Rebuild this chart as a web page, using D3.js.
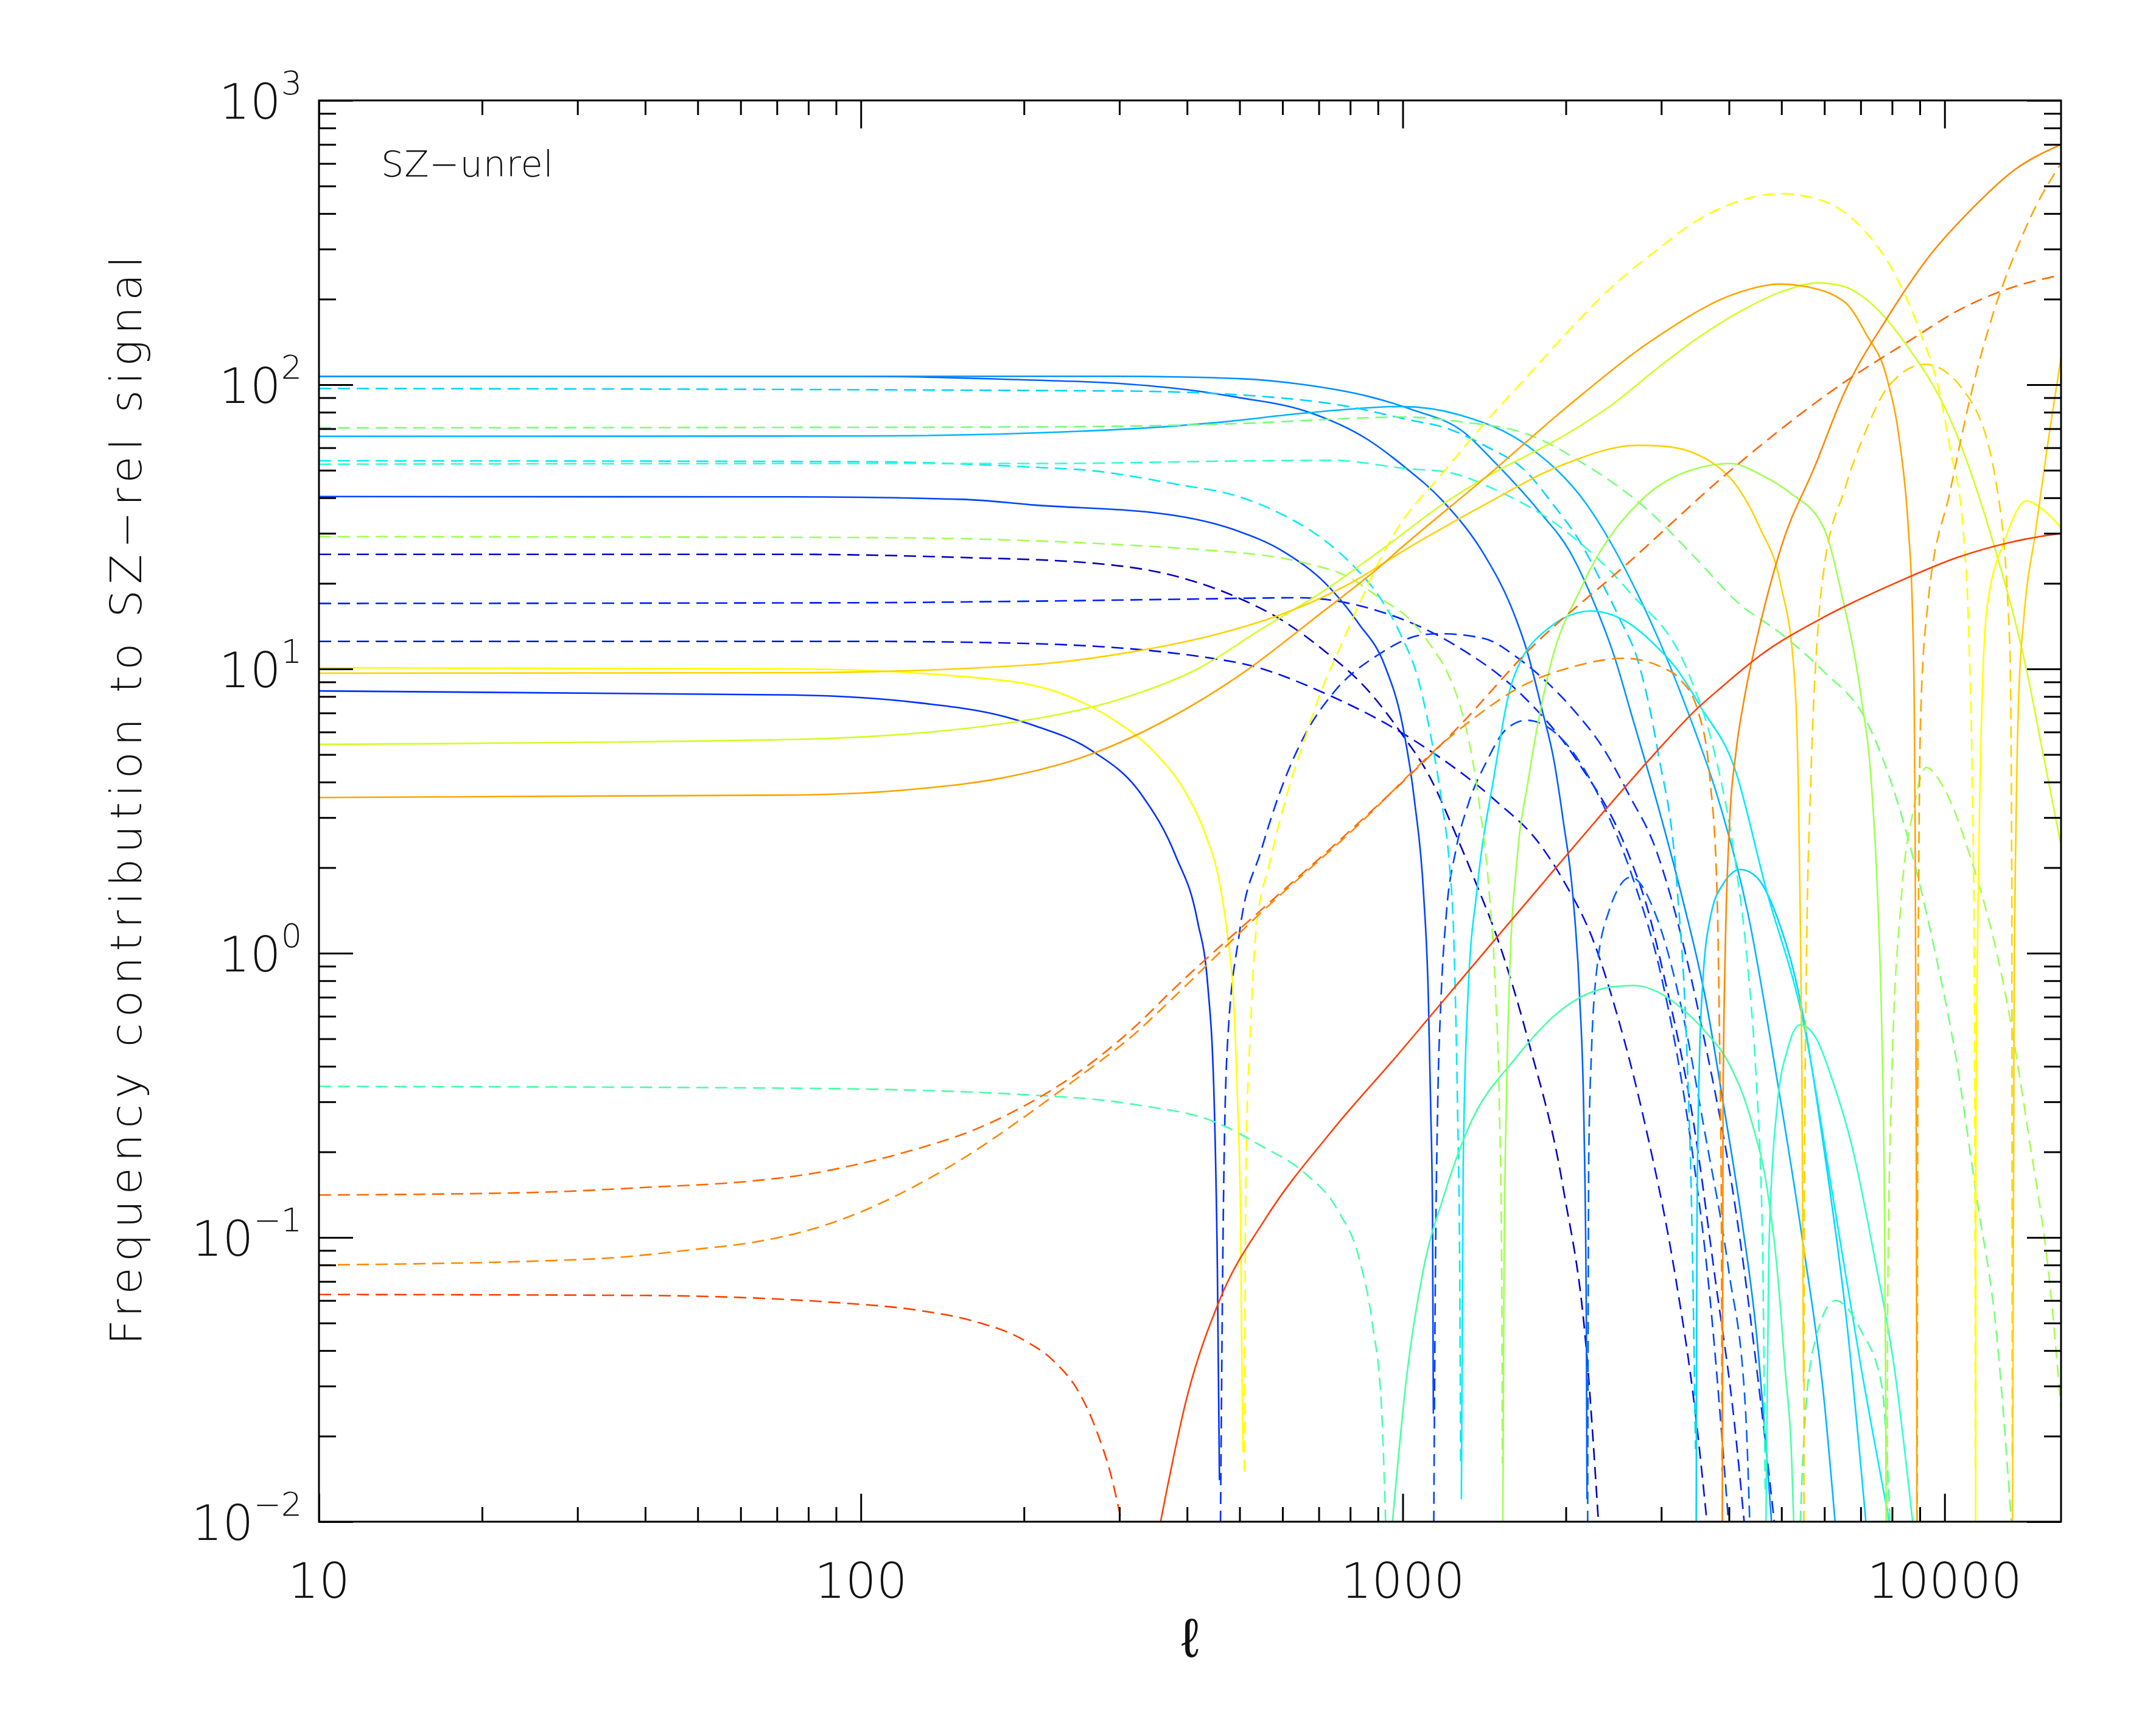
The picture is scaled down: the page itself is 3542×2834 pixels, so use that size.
<!DOCTYPE html>
<html>
<head>
<meta charset="utf-8">
<script src="https://cdn.jsdelivr.net/npm/d3@7"></script>
<style>
  html, body { margin: 0; padding: 0; background: #fff; }
  svg { display: block; }
  text { font-family: "DejaVu Sans", sans-serif; font-weight: 200; fill: #111; }
</style>
</head>
<body>
<div id="chart"></div>
<script>
// each series: [ell, signed contribution]; negative parts are drawn dashed
const dkBlue25 = [[10,-25.3],[75,-25.3],[150,-24.7],[265,-23.6],[381,-21.2],[500,-17.7],[600,-14.8],[720,-11.5],[863,-8.4],[990,-6.0],[1127,-4.1],[1239,-2.75],[1364,-1.77],[1490,-1.15],[1706,-0.49],[1979,-0.148],[2185,-0.039],[2300,-0.0096]];
const blue12 = [[10,-12.5],[100,-12.5],[200,-12.3],[486,-10.6],[740,-8.0],[1066,-5.5],[1494,-3.4],[1766,-2.5],[1980,-1.8],[2250,-1.1],[2473,-0.63],[2800,-0.25],[3185,-0.073],[3460,-0.025],[3650,-0.0096]];
const blue17 = [[10,-17.0],[100,-17.1],[200,-17.3],[400,-17.6],[643,-17.8],[901,-16],[1260,-12],[1670,-8.0],[2090,-4.8],[2617,-2.2],[2846,-1.38],[3006,-0.9],[3460,-0.237],[3767,-0.073],[4096,-0.022],[4275,-0.0096]];
const blue8 = [[10,8.37],[75,8.1],[128,7.6],[184,6.8],[210,6.3],[265,5.2],[330,3.6],[381,2.2],[418,1.3],[437,0.76],[449,0.29],[455,0.076],[459,0.014],[461,-0.0099],[466,-0.1],[474,-0.45],[500,-1.19],[548,-2.3],[600,-3.9],[658,-5.8],[747,-8.3],[900,-11.2],[1092,-13.2],[1175,-13.3],[1413,-12.8],[1623,-11],[1866,-8.8],[2090,-7.0],[2338,-5.3],[2617,-3.6],[2924,-2.35],[3185,-1.38],[3600,-0.5],[4108,-0.128],[4616,-0.023],[4860,-0.0096]];
const blue40 = [[10,40.4],[74,40.3],[154,39.5],[210,37.7],[367,35],[486,31],[608,25.6],[720,20],[828,14.5],[926,10.3],[1000,6.3],[1052,3.4],[1093,1.6],[1115,0.7],[1126,0.29],[1135,0.118],[1139,0.024],[1141,-0.0099],[1149,-0.076],[1160,-0.29],[1177,-0.70],[1203,-1.36],[1253,-2.3],[1318,-3.3],[1426,-4.7],[1548,-6.1],[1694,-6.6],[1979,-5.6],[2296,-3.6],[2676,-1.77],[3000,-0.83],[3345,-0.27],[3690,-0.061],[3998,-0.0096]];
const blueA = [[10,107],[100,107],[200,104],[300,101],[400,96],[500,90],[658,81],[863,64],[1000,52],[1185,39],[1418,25],[1580,16.8],[1697,11.5],[1807,7.2],[1900,4.8],[1979,2.9],[2060,1.6],[2121,0.70],[2160,0.25],[2182,0.05],[2188,0.012],[2194,-0.0099],[2205,-0.2],[2230,-0.45],[2274,-0.83],[2400,-1.4],[2636,-1.85],[2958,-1.3],[3270,-0.64],[3616,-0.23],[3998,-0.076],[4290,-0.025],[4371,-0.0097]];
const blueB = [[10,107],[300,107],[500,105],[658,100],[863,91],[1035,82],[1297,68],[1469,54],[1791,35.6],[2031,26],[2263,16.8],[2460,11],[2638,7.0],[2958,3.3],[3270,1.6],[3616,0.7],[3900,0.3],[4215,0.118],[4500,0.045],[4800,0.0096]];
const blueC = [[10,65.8],[100,66],[318,70],[457,73.7],[658,79.4],[997,83.8],[1282,78],[1698,61],[2183,38],[2712,18.4],[3365,7.0],[3873,3.2],[4335,1.38],[4900,0.365],[5470,0.097],[5990,0.027],[6290,0.0096]];
const cyan97 = [[10,-97],[300,-95],[548,-91],[788,-84],[1035,-75],[1185,-71],[1418,-61],[1698,-49],[1892,-38],[2109,-28.6],[2307,-20.9],[2523,-14.8],[2712,-10.8],[2958,-5.1],[3210,-1.69],[3345,-0.45],[3415,-0.118],[3470,-0.018],[3480,0.0099],[3490,0.1],[3520,0.35],[3580,0.8],[3700,1.35],[3900,1.75],[4200,1.97],[4500,1.85],[4900,1.35],[5400,0.7],[6000,0.2],[6600,0.05],[7170,0.0096]];
const cyan54 = [[10,-54],[100,-53.6],[210,-51.2],[265,-49.9],[381,-44.7],[500,-40.3],[600,-34.9],[720,-28.2],[817,-22.7],[910,-17.7],[997,-12.9],[1061,-9.6],[1127,-5.8],[1183,-3.3],[1218,-2.1],[1243,-1.09],[1262,-0.29],[1274,-0.076],[1279,-0.016],[1283,0.012],[1293,0.18],[1319,0.70],[1372,1.69],[1471,4.1],[1592,9.0],[1857,13.9],[2224,16],[2566,14.8],[2912,12.2],[3190,10.1],[3556,7.3],[4093,4.5],[4680,1.69],[5510,0.55],[6300,0.12],[7010,0.035],[7940,0.0096]];
const aqua52 = [[10,-52.5],[100,-52.8],[210,-52.8],[548,-54],[740,-54.2],[1035,-50.5],[1191,-49.5],[1494,-42.4],[1977,-31],[2617,-18.7],[3365,-9.7],[3750,-5.2],[4093,-2.2],[4332,-0.9],[4490,-0.365],[4572,-0.179],[4616,-0.088],[4665,-0.013],[4680,0.0099],[4737,0.088],[4909,0.29],[5132,0.46],[5410,0.56],[5800,0.5],[6185,0.365],[6760,0.206],[7400,0.088],[8090,0.034],[8750,0.0096]];
const aqua03 = [[10,-0.34],[75,-0.335],[200,-0.318],[318,-0.294],[459,-0.251],[548,-0.21],[658,-0.169],[760,-0.124],[833,-0.083],[880,-0.049],[914,-0.025],[930,-0.0099],[957,0.0099],[1016,0.032],[1090,0.076],[1192,0.141],[1318,0.24],[1620,0.43],[1979,0.64],[2420,0.76],[2676,0.77],[2958,0.73],[3270,0.64],[3616,0.53],[3998,0.41],[4418,0.25],[4700,0.15],[4900,0.08],[5080,0.034],[5220,0.0167],[5270,0.0096],[5415,-0.0099],[5510,-0.021],[5762,-0.043],[6290,-0.060],[7010,-0.047],[7660,-0.030],[7940,-0.0096]];
const green70 = [[10,-70.5],[200,-71],[500,-73],[788,-76],[1000,-77],[1282,-74],[1698,-67],[2183,-52],[2806,-36.8],[3480,-24.4],[4170,-17],[4990,-13.3],[5980,-9.8],[7160,-6.6],[7700,-4.8],[8370,-2.95],[9570,-1.04],[10470,-0.44],[11440,-0.141],[12510,-0.043],[13300,-0.0096]];
const ygreen29 = [[10,-29.2],[100,-29],[457,-26],[658,-23.6],[788,-21.2],[910,-17.7],[1035,-14.8],[1129,-12],[1206,-9.8],[1282,-7.2],[1340,-5.0],[1386,-3.3],[1442,-1.69],[1485,-0.70],[1508,-0.29],[1523,-0.076],[1527,-0.016],[1530,0.0099],[1538,0.076],[1553,0.3],[1576,0.87],[1624,2.1],[1706,4.1],[1866,10],[2143,19.6],[2806,40.5],[3400,50],[4030,52.8],[4600,48],[5180,41.7],[5980,31.4],[6470,18],[7010,8.0],[7330,3.9],[7530,1.52],[7670,0.46],[7740,0.141],[7780,0.034],[7800,0.0099],[7830,-0.0099],[7850,-0.055],[7990,-0.365],[8310,-1.52],[8770,-3.24],[9250,-4.5],[9900,-3.9],[11140,-2.2],[13080,-0.65],[14300,-0.227],[15630,-0.069],[16400,-0.025]];
const ygreen5 = [[10,5.43],[75,5.65],[221,6.8],[318,8.1],[418,10],[548,13.8],[720,19],[944,27.5],[1185,38],[1418,47],[2032,68],[2432,85],[2912,112],[3484,145],[4170,180],[4990,212],[5820,228],[6500,222],[7160,200],[8570,135],[10260,75],[12280,28],[14150,10],[15200,5],[16400,2.4]];
const yellow10 = [[10,10.1],[75,10],[184,9.1],[242,8.0],[290,6.7],[348,5.1],[395,3.75],[433,2.6],[457,1.85],[474,1.19],[487,0.70],[496,0.29],[502,0.118],[504,0.049],[507,0.0176],[510,-0.015],[514,-0.184],[524,-0.56],[536,-1.19],[569,-2.1],[611,-3.6],[658,-5.6],[706,-8.3],[760,-11.5],[980,-31.4],[1185,-48.9],[1418,-73.5],[1698,-107],[2032,-156],[2432,-221],[2912,-293],[3484,-377],[4170,-442],[4990,-470],[5980,-442],[7160,-343],[8110,-243],[9040,-151],[9710,-100],[10250,-59],[10820,-31],[11100,-12],[11250,-3.9],[11350,-0.8],[11395,-0.015],[11410,0.0099],[11420,0.227],[11530,1.52],[11690,6.3],[11970,16.3],[12940,28.6],[14160,39],[15000,37],[16400,31.4]];
const gold10 = [[10,9.66],[75,9.7],[200,10.3],[318,11.5],[457,13.3],[600,15.6],[788,19.7],[1035,27],[1418,37.9],[1960,52],[2712,61.2],[3020,60.8],[3744,52.8],[4170,43],[4560,31.4],[4990,19.6],[5270,10],[5370,3.9],[5410,1.52],[5455,0.365],[5490,0.031],[5500,-0.0099],[5510,-0.141],[5560,-0.94],[5660,-3.9],[5840,-14],[5980,-22],[6545,-43],[7160,-69],[7840,-97.5],[9200,-118],[11010,-91.6],[12500,-43],[13190,-12.2],[13300,-2],[13330,-0.0167],[13345,0.0099],[13430,0.59],[13550,3.0],[13700,8],[14000,15],[14700,30],[15500,62],[16400,125]];
const orange3 = [[10,3.53],[75,3.6],[130,3.8],[184,4.15],[265,5.0],[381,6.9],[500,9.5],[700,15.5],[910,23],[990,26.5],[1418,47],[2032,85],[2912,145],[4170,211],[4990,226],[5500,222],[6545,195],[7160,151],[7840,104],[8260,63],[8570,31.4],[8720,16.3],[8790,7.2],[8820,3],[8850,0.59],[8870,0.141],[8890,0.0099],[8900,-0.0099],[8920,-0.3],[8960,-2],[9040,-7.2],[9300,-16.5],[10260,-43],[11220,-94.6],[12280,-177],[13430,-284],[14700,-420],[16400,-600]];
const orange008 = [[10,-0.080],[32,-0.084],[50,-0.091],[63,-0.096],[80,-0.106],[100,-0.123],[127,-0.153],[160,-0.198],[200,-0.265],[254,-0.37],[320,-0.52],[372,-0.68],[550,-1.4],[790,-2.6],[1282,-6.2],[1698,-8.9],[2032,-10.1],[2566,-10.9],[3020,-10.1],[3248,-9.2],[3515,-7.0],[3690,-4.1],[3800,-1.69],[3845,-0.45],[3873,-0.118],[3883,-0.015],[3888,0.0099],[3900,0.29],[3940,1.09],[4000,2.6],[4120,5.1],[4250,7.5],[4565,14.3],[4995,26.9],[5770,52],[6545,94.6],[7840,172],[9380,284],[11220,415],[13430,568],[16400,700]];
const orange014 = [[10,-0.141],[25,-0.144],[40,-0.150],[63,-0.158],[80,-0.167],[100,-0.182],[127,-0.205],[160,-0.237],[200,-0.29],[254,-0.385],[320,-0.55],[381,-0.76],[548,-1.42],[788,-2.63],[1282,-6.4],[1698,-11.5],[2612,-23.7],[4030,-50],[6430,-100],[8570,-142],[10800,-186],[13430,-221],[16400,-243]];
const red = [[10,-0.063],[40,-0.0625],[60,-0.0615],[90,-0.059],[127,-0.0555],[160,-0.051],[200,-0.0435],[226,-0.037],[254,-0.028],[272,-0.021],[291,-0.014],[303,-0.0099],[357,0.0099],[399,0.027],[459,0.060],[559,0.117],[740,0.237],[980,0.44],[1297,0.83],[1717,1.56],[2275,2.93],[2880,4.9],[3480,7.2],[3840,8.5],[4580,11.2],[5977,15.2],[8040,19.9],[10640,24.8],[14070,28.6],[16400,30]];

const seriesData = [dkBlue25, blue12, blue17, blue8, blue40, blueA, blueB, blueC, cyan97, cyan54, aqua52, aqua03,
                    green70, ygreen29, ygreen5, yellow10, gold10, orange3, orange008, orange014, red];
const seriesColors = ['#0000c0', '#0010e8', '#0020ff', '#0030ff', '#0044ff', '#0060ff', '#0090ff', '#00b4ff', '#00d4ff', '#00ecf8', '#30ffd0', '#48ffa8',
                      '#78ff78', '#a0ff50', '#d0ff20', '#ffff00', '#ffd200', '#ffa400', '#ff8800', '#ff6800', '#ff4000'];

const xMajor = [10, 100, 1000, 10000];
const xLabels = ['10', '100', '1000', '10000'];
const yMajor = [0.01, 0.1, 1, 10, 100, 1000];
const yExps = ['\u22122', '\u22121', '0', '1', '2', '3'];

let dim = {'width': 3542, 'height': 2834};
let box = {left: 524, right: 3386, top: 165, bottom: 2500};

let x = d3.scaleLog().domain([10, 16400]).range([box.left, box.right]);
let y = d3.scaleLog().domain([0.01, 1000]).range([box.bottom, box.top]);

let svg = d3.select('#chart').append('svg')
    .attr('width', dim.width)
    .attr('height', dim.height)
    .style('background', 'white');

svg.append('clipPath').attr('id', 'plotclip')
    .append('rect')
    .attr('x', box.left).attr('y', box.top)
    .attr('width', box.right - box.left).attr('height', box.bottom - box.top);

// split a series into runs of one sign
function signRuns(data){
    let runs = [];
    let cur = [];
    data.forEach(function(p){
        if(cur.length && (cur[0][1] < 0) !== (p[1] < 0)){
            runs.push(cur);
            cur = [];
        }
        cur.push(p);
    });
    if(cur.length) runs.push(cur);
    return runs;
}

let line = d3.line()
    .x(d => x(d[0]))
    .y(d => y(Math.abs(d[1])))
    .curve(d3.curveMonotoneX);

let curves = svg.append('g').attr('clip-path', 'url(#plotclip)');

seriesData.forEach(function(data, i){
    signRuns(data).forEach(function(run){
        curves.append('path')
            .datum(run)
            .attr('d', line)
            .attr('fill', 'none')
            .attr('stroke', seriesColors[i])
            .attr('stroke-width', 2.6)
            .attr('stroke-dasharray', run[0][1] < 0 ? '20,11' : null);
    });
});

// frame and ticks (on all four sides, pointing inwards)
svg.append('rect')
    .attr('x', box.left).attr('y', box.top)
    .attr('width', box.right - box.left).attr('height', box.bottom - box.top)
    .attr('fill', 'none').attr('stroke', '#000').attr('stroke-width', 3);

let xMinor = [];
xMajor.forEach(d => { for(let k = 2; k <= 9; k++) if(d * k <= 16400) xMinor.push(d * k); });
let yMinor = [];
yMajor.slice(0, -1).forEach(d => { for(let k = 2; k <= 9; k++) yMinor.push(d * k); });

function ticks(axis, tx, ty){
    let g = svg.append('g')
        .attr('transform', 'translate(' + tx + ',' + ty + ')')
        .call(axis);
    g.select('.domain').remove();
    g.selectAll('.tick text').remove();
    g.selectAll('.tick line').attr('stroke', '#000').attr('stroke-width', 3);
}

ticks(d3.axisBottom(x).tickValues(xMajor).tickSize(-46).tickFormat(''), 0, box.bottom);
ticks(d3.axisBottom(x).tickValues(xMinor).tickSize(-24).tickFormat(''), 0, box.bottom);
ticks(d3.axisTop(x).tickValues(xMajor).tickSize(-46).tickFormat(''), 0, box.top);
ticks(d3.axisTop(x).tickValues(xMinor).tickSize(-24).tickFormat(''), 0, box.top);
ticks(d3.axisLeft(y).tickValues(yMajor).tickSize(-56).tickFormat(''), box.left, 0);
ticks(d3.axisLeft(y).tickValues(yMinor).tickSize(-28).tickFormat(''), box.left, 0);
ticks(d3.axisRight(y).tickValues(yMajor).tickSize(-56).tickFormat(''), box.right, 0);
ticks(d3.axisRight(y).tickValues(yMinor).tickSize(-28).tickFormat(''), box.right, 0);

// tick labels
svg.selectAll('text.xlab')
    .data(xMajor)
    .join('text')
    .attr('class', 'xlab')
    .attr('x', d => x(d))
    .attr('y', 2625)
    .attr('text-anchor', 'middle')
    .attr('font-size', 80)
    .text((d, i) => xLabels[i]);

yMajor.forEach(function(v, i){
    let t = svg.append('text')
        .attr('x', 496)
        .attr('y', y(v) + 30)
        .attr('text-anchor', 'end')
        .attr('font-size', 80);
    t.append('tspan').text('10');
    t.append('tspan').attr('dy', -40).attr('font-size', 54).text(yExps[i]);
});

// titles
svg.append('text')
    .attr('x', (box.left + box.right) / 2)
    .attr('y', 2722)
    .attr('text-anchor', 'middle')
    .attr('font-size', 90)
    .text('\u2113');

svg.append('text')
    .attr('transform', 'translate(232,1315) rotate(-90)')
    .attr('text-anchor', 'middle')
    .attr('font-size', 72)
    .attr('textLength', 1789)
    .attr('lengthAdjust', 'spacing')
    .text('Frequency contribution to SZ\u2212rel signal');

svg.append('text')
    .attr('x', 626)
    .attr('y', 290)
    .attr('font-size', 59)
    .attr('textLength', 283)
    .attr('lengthAdjust', 'spacing')
    .text('SZ\u2212unrel');
</script>
</body>
</html>
